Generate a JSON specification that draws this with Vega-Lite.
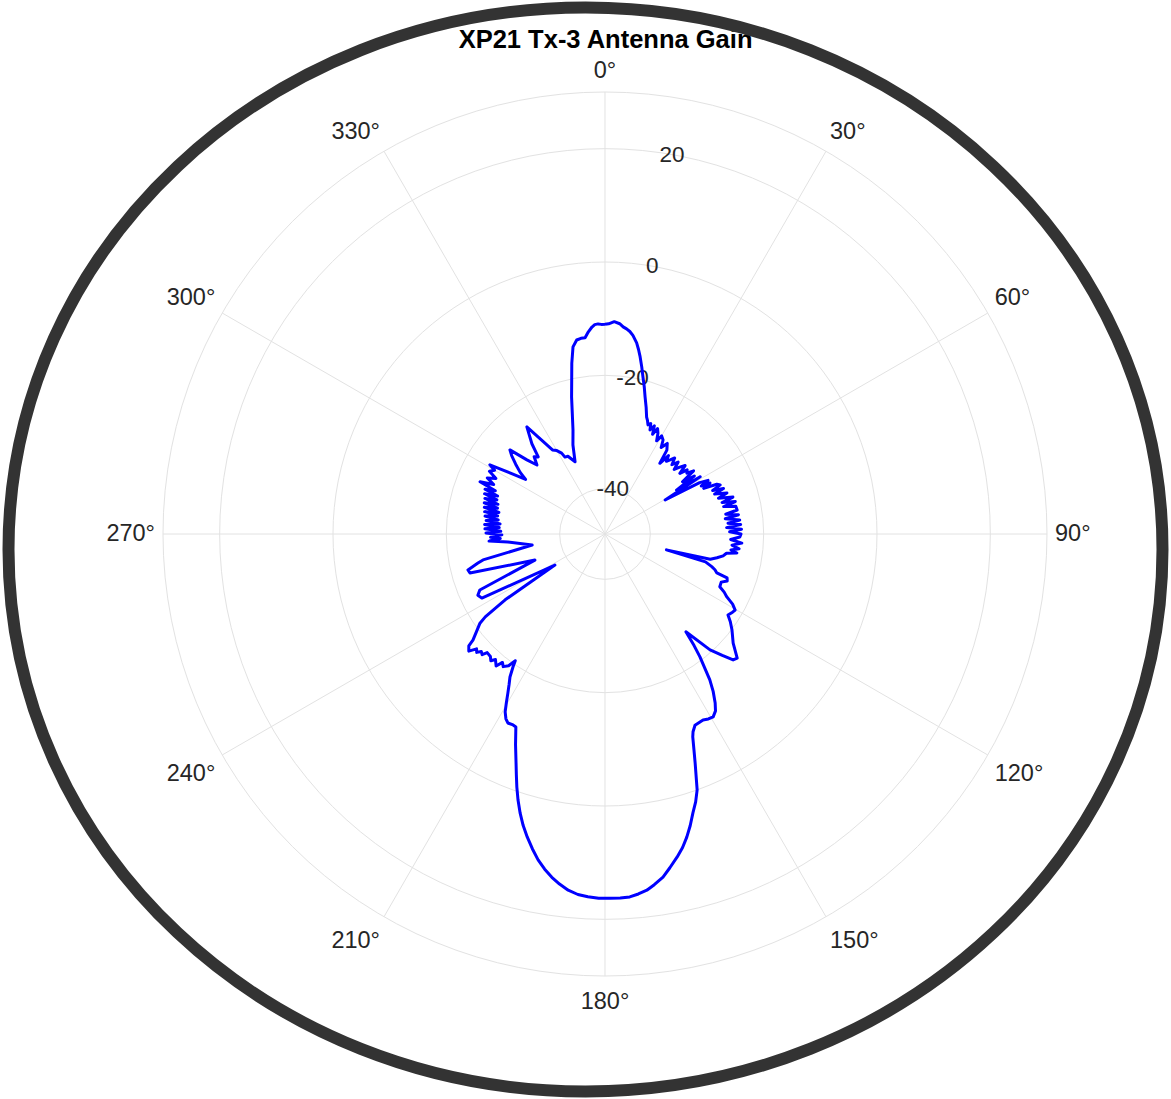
{
  "$schema": "https://vega.github.io/schema/vega-lite/v6.json",
  "width": 1171,
  "height": 1099,
  "padding": 0,
  "autosize": {"type": "none"},
  "background": "white",
  "config": {"view": {"stroke": null}},
  "datasets": {
    "rings": [{"level": -40}, {"level": -20}, {"level": 0}, {"level": 20}, {"level": 30}],
    "spokes": [{"angle": 0, "r": 0}, {"angle": 0, "r": 78}, {"angle": 30, "r": 0}, {"angle": 30, "r": 78}, {"angle": 60, "r": 0}, {"angle": 60, "r": 78}, {"angle": 90, "r": 0}, {"angle": 90, "r": 78}, {"angle": 120, "r": 0}, {"angle": 120, "r": 78}, {"angle": 150, "r": 0}, {"angle": 150, "r": 78}, {"angle": 180, "r": 0}, {"angle": 180, "r": 78}, {"angle": 210, "r": 0}, {"angle": 210, "r": 78}, {"angle": 240, "r": 0}, {"angle": 240, "r": 78}, {"angle": 270, "r": 0}, {"angle": 270, "r": 78}, {"angle": 300, "r": 0}, {"angle": 300, "r": 78}, {"angle": 330, "r": 0}, {"angle": 330, "r": 78}],
    "thetaLabels": [{"angle": 0, "label": "0°"}, {"angle": 30, "label": "30°"}, {"angle": 60, "label": "60°"}, {"angle": 90, "label": "90°"}, {"angle": 120, "label": "120°"}, {"angle": 150, "label": "150°"}, {"angle": 180, "label": "180°"}, {"angle": 210, "label": "210°"}, {"angle": 240, "label": "240°"}, {"angle": 270, "label": "270°"}, {"angle": 300, "label": "300°"}, {"angle": 330, "label": "330°"}],
    "rLabels": [{"level": -40, "label": "-40"}, {"level": -20, "label": "-20"}, {"level": 0, "label": "0"}, {"level": 20, "label": "20"}],
    "titleText": [{"title": "XP21 Tx-3 Antenna Gain"}],
    "pattern": [
      {"angle":0,"gain":-11.0},{"angle":1,"gain":-10.9},{"angle":2.5,"gain":-10.5},{"angle":4,"gain":-10.8},{"angle":5,"gain":-11.3},{"angle":6,"gain":-11.6},{"angle":7,"gain":-12.0},{"angle":8,"gain":-12.6},{"angle":9.4,"gain":-13.8},{"angle":10.3,"gain":-14.9},{"angle":11.2,"gain":-16.1},{"angle":12.4,"gain":-17.8},{"angle":13.6,"gain":-19.5},{"angle":15,"gain":-21.2},{"angle":16.3,"gain":-22.8},{"angle":18,"gain":-24.5},{"angle":19.6,"gain":-26.1},{"angle":20.5,"gain":-26.6},{"angle":21.5,"gain":-27.3},{"angle":22.5,"gain":-26.9},{"angle":23.4,"gain":-28.0},{"angle":24.5,"gain":-27.0},{"angle":25.5,"gain":-28.5},{"angle":26.5,"gain":-27.2},{"angle":27.7,"gain":-27.9},{"angle":29,"gain":-29.2},{"angle":30,"gain":-28.0},{"angle":31.7,"gain":-28.5},{"angle":33,"gain":-29.8},{"angle":34.5,"gain":-28.6},{"angle":36.4,"gain":-29.6},{"angle":37.8,"gain":-32.2},{"angle":39,"gain":-30.2},{"angle":40.2,"gain":-31.2},{"angle":41.3,"gain":-30.6},{"angle":42.5,"gain":-29.8},{"angle":44,"gain":-31.0},{"angle":45.5,"gain":-29.9},{"angle":47,"gain":-31.3},{"angle":48.2,"gain":-30.3},{"angle":49.5,"gain":-29.4},{"angle":51,"gain":-31.0},{"angle":52,"gain":-29.6},{"angle":53.4,"gain":-30.0},{"angle":54.5,"gain":-28.8},{"angle":56,"gain":-31.5},{"angle":57,"gain":-29.2},{"angle":58.5,"gain":-33.2},{"angle":59,"gain":-28.4},{"angle":60.5,"gain":-35.8},{"angle":61.5,"gain":-29.0},{"angle":62.5,"gain":-27.5},{"angle":63.5,"gain":-29.0},{"angle":64.1,"gain":-27.4},{"angle":65.2,"gain":-28.8},{"angle":66,"gain":-26.4},{"angle":66.9,"gain":-25.9},{"angle":68,"gain":-27.5},{"angle":69,"gain":-25.6},{"angle":70,"gain":-27.4},{"angle":71.4,"gain":-25.3},{"angle":72.5,"gain":-27.0},{"angle":73.9,"gain":-24.5},{"angle":75,"gain":-26.6},{"angle":76,"gain":-24.3},{"angle":77,"gain":-26.5},{"angle":78,"gain":-24.4},{"angle":79.7,"gain":-24.3},{"angle":80.7,"gain":-26.4},{"angle":81.8,"gain":-24.2},{"angle":82.8,"gain":-26.6},{"angle":84.1,"gain":-24.1},{"angle":85,"gain":-26.2},{"angle":86,"gain":-24.0},{"angle":87,"gain":-26.5},{"angle":88,"gain":-23.9},{"angle":89,"gain":-26.0},{"angle":90,"gain":-24.0},{"angle":91.3,"gain":-24.2},{"angle":92.5,"gain":-25.8},{"angle":93.8,"gain":-23.8},{"angle":95,"gain":-25.5},{"angle":96.3,"gain":-24.2},{"angle":97.2,"gain":-25.6},{"angle":98.2,"gain":-24.5},{"angle":99,"gain":-26.3},{"angle":100.5,"gain":-26.8},{"angle":102,"gain":-27.8},{"angle":103.5,"gain":-28.9},{"angle":104.5,"gain":-36.8},{"angle":105.5,"gain":-29.6},{"angle":107,"gain":-28.3},{"angle":108,"gain":-27.6},{"angle":109.2,"gain":-27.1},{"angle":109.8,"gain":-25.1},{"angle":111,"gain":-24.9},{"angle":112.5,"gain":-25.8},{"angle":114.7,"gain":-25.7},{"angle":116,"gain":-24.6},{"angle":117.3,"gain":-23.8},{"angle":118.8,"gain":-22.3},{"angle":120.3,"gain":-21.4},{"angle":121.5,"gain":-21.6},{"angle":123.4,"gain":-22.0},{"angle":125,"gain":-21.0},{"angle":127.1,"gain":-19.9},{"angle":130.4,"gain":-18.3},{"angle":133.2,"gain":-16.0},{"angle":134.5,"gain":-16.3},{"angle":136,"gain":-18.2},{"angle":137.8,"gain":-20.4},{"angle":140.4,"gain":-25.6},{"angle":141.4,"gain":-22.8},{"angle":142.3,"gain":-20.6},{"angle":144.3,"gain":-16.3},{"angle":145.5,"gain":-14.3},{"angle":146.9,"gain":-12.4},{"angle":148,"gain":-11.2},{"angle":149.4,"gain":-10.5},{"angle":150.8,"gain":-10.6},{"angle":152.2,"gain":-10.9},{"angle":154.8,"gain":-10.7},{"angle":156,"gain":-9.8},{"angle":156.6,"gain":-9.0},{"angle":157.6,"gain":-6.8},{"angle":158.5,"gain":-4.6},{"angle":160.2,"gain":0.0},{"angle":161.3,"gain":1.9},{"angle":162.5,"gain":3.6},{"angle":163.7,"gain":5.6},{"angle":164.9,"gain":7.4},{"angle":166.1,"gain":9.0},{"angle":167.4,"gain":10.4},{"angle":169,"gain":12.0},{"angle":170.4,"gain":13.4},{"angle":172,"gain":14.5},{"angle":173.3,"gain":15.3},{"angle":174.7,"gain":15.8},{"angle":176.1,"gain":16.2},{"angle":177.6,"gain":16.3},{"angle":179.2,"gain":16.3},{"angle":181,"gain":16.3},{"angle":182.7,"gain":16.1},{"angle":184.3,"gain":15.8},{"angle":185.9,"gain":15.2},{"angle":187.4,"gain":14.3},{"angle":188.8,"gain":13.3},{"angle":190.2,"gain":12.1},{"angle":191.6,"gain":10.7},{"angle":193,"gain":9.0},{"angle":194.4,"gain":7.2},{"angle":195.7,"gain":5.4},{"angle":196.9,"gain":3.5},{"angle":198.1,"gain":1.4},{"angle":199.2,"gain":-0.7},{"angle":200.2,"gain":-2.7},{"angle":201.2,"gain":-4.6},{"angle":203,"gain":-7.6},{"angle":204.8,"gain":-10.5},{"angle":205.7,"gain":-10.6},{"angle":207.2,"gain":-10.5},{"angle":208.2,"gain":-11.0},{"angle":209.3,"gain":-12.0},{"angle":210.3,"gain":-13.5},{"angle":211.4,"gain":-15.1},{"angle":212.5,"gain":-16.5},{"angle":213.6,"gain":-17.7},{"angle":214.7,"gain":-19.5},{"angle":215.3,"gain":-20.6},{"angle":216.2,"gain":-19.2},{"angle":217.5,"gain":-18.5},{"angle":218.6,"gain":-19.0},{"angle":219.5,"gain":-17.8},{"angle":221.1,"gain":-18.6},{"angle":222,"gain":-17.9},{"angle":223.1,"gain":-18.4},{"angle":224.8,"gain":-18.5},{"angle":225.5,"gain":-17.6},{"angle":226.5,"gain":-17.9},{"angle":227.3,"gain":-17.2},{"angle":228.2,"gain":-17.6},{"angle":229.3,"gain":-16.3},{"angle":230.6,"gain":-16.9},{"angle":231.2,"gain":-18.1},{"angle":233.1,"gain":-19.8},{"angle":234.5,"gain":-20.9},{"angle":235.3,"gain":-22.3},{"angle":236,"gain":-25.0},{"angle":236.6,"gain":-26.9},{"angle":238.2,"gain":-37.6},{"angle":242.5,"gain":-23.5},{"angle":244.3,"gain":-23.1},{"angle":245.9,"gain":-23.8},{"angle":249.6,"gain":-34.8},{"angle":253.9,"gain":-23.2},{"angle":255.3,"gain":-23.0},{"angle":257.1,"gain":-25.0},{"angle":258,"gain":-26.0},{"angle":261.4,"gain":-35.0},{"angle":265.3,"gain":-30.8},{"angle":266.5,"gain":-27.5},{"angle":267.5,"gain":-29.5},{"angle":268.4,"gain":-27.8},{"angle":269.5,"gain":-29.8},{"angle":270.5,"gain":-27.0},{"angle":271.5,"gain":-29.6},{"angle":272.5,"gain":-26.8},{"angle":273.5,"gain":-29.3},{"angle":274.5,"gain":-26.7},{"angle":275.5,"gain":-29.4},{"angle":276.5,"gain":-26.9},{"angle":277.5,"gain":-29.0},{"angle":278.5,"gain":-26.6},{"angle":279.5,"gain":-28.8},{"angle":280.5,"gain":-26.4},{"angle":281.5,"gain":-28.9},{"angle":282.5,"gain":-26.2},{"angle":283.5,"gain":-28.5},{"angle":284.5,"gain":-26.0},{"angle":285.5,"gain":-28.4},{"angle":286.5,"gain":-25.9},{"angle":287.5,"gain":-28.0},{"angle":288.5,"gain":-25.6},{"angle":289.5,"gain":-27.9},{"angle":290.5,"gain":-25.4},{"angle":291.5,"gain":-27.2},{"angle":292.7,"gain":-24.1},{"angle":294,"gain":-26.5},{"angle":295.5,"gain":-25.0},{"angle":297,"gain":-26.4},{"angle":298.5,"gain":-24.8},{"angle":300,"gain":-25.5},{"angle":301,"gain":-24.3},{"angle":303,"gain":-28.5},{"angle":304.5,"gain":-31.0},{"angle":306,"gain":-29.5},{"angle":308,"gain":-28.0},{"angle":310,"gain":-26.5},{"angle":311.5,"gain":-25.6},{"angle":313.5,"gain":-29.0},{"angle":315.4,"gain":-30.9},{"angle":317.5,"gain":-29.5},{"angle":319.1,"gain":-30.0},{"angle":321,"gain":-27.5},{"angle":323.9,"gain":-24.6},{"angle":326,"gain":-28.0},{"angle":328,"gain":-30.5},{"angle":330,"gain":-31.0},{"angle":331.8,"gain":-31.8},{"angle":332.5,"gain":-32.7},{"angle":334.5,"gain":-32.8},{"angle":337.5,"gain":-34.2},{"angle":340.2,"gain":-31.3},{"angle":342.9,"gain":-28.8},{"angle":344.8,"gain":-26.0},{"angle":346.3,"gain":-23.1},{"angle":347.8,"gain":-20.2},{"angle":349,"gain":-17.3},{"angle":350.3,"gain":-14.5},{"angle":351.7,"gain":-13.4},{"angle":353,"gain":-13.2},{"angle":354.2,"gain":-13.2},{"angle":355.3,"gain":-12.2},{"angle":356.4,"gain":-11.4},{"angle":357.2,"gain":-11.0},{"angle":358.1,"gain":-10.9},{"angle":359,"gain":-11.0},{"angle":360,"gain":-11.0}
    ]
  },
  "layer": [
    {
      "data": {"name": "rings"},
      "transform": [{"calculate": "datum.level + 48", "as": "rr"}],
      "mark": {"type": "point", "shape": "circle", "filled": false, "stroke": "#e2e2e2", "strokeWidth": 1, "opacity": 1},
      "encoding": {
        "x": {"datum": 0, "type": "quantitative", "scale": {"domain": [-106.76, 99.88], "nice": false, "zero": false}, "axis": null},
        "y": {"datum": 0, "type": "quantitative", "scale": {"domain": [-99.71, 94.24], "nice": false, "zero": false}, "axis": null},
        "size": {"field": "rr", "type": "quantitative", "scale": {"type": "pow", "exponent": 2, "domain": [0, 78], "range": [0, 781456], "zero": true, "nice": false}, "legend": null}
      }
    },
    {
      "data": {"name": "spokes"},
      "transform": [
        {"calculate": "datum.r * sin(datum.angle * PI / 180)", "as": "sx"},
        {"calculate": "datum.r * cos(datum.angle * PI / 180)", "as": "sy"}
      ],
      "mark": {"type": "line", "color": "#e2e2e2", "strokeWidth": 1},
      "encoding": {
        "x": {"field": "sx", "type": "quantitative", "scale": {"domain": [-106.76, 99.88], "nice": false, "zero": false}, "axis": null},
        "y": {"field": "sy", "type": "quantitative", "scale": {"domain": [-99.71, 94.24], "nice": false, "zero": false}, "axis": null},
        "detail": {"field": "angle", "type": "nominal"},
        "order": {"field": "r", "type": "quantitative"}
      }
    },
    {
      "data": {"name": "thetaLabels"},
      "transform": [
        {"calculate": "datum.angle * PI / 180", "as": "a"},
        {"calculate": "abs(sin(datum.a)) < 0.01 ? 0 : (sin(datum.a) > 0 ? 1 : -1)", "as": "sgx"},
        {"calculate": "abs(cos(datum.a)) < 0.01 ? 0 : (cos(datum.a) > 0 ? 8.4 : -13)", "as": "offy"},
        {"calculate": "(13.07 * (length(datum.label) - 1) + 9.4) / 2", "as": "hw"},
        {"calculate": "(450 * sin(datum.a) + datum.sgx * datum.hw) / 5.667", "as": "lx"},
        {"calculate": "(455 * cos(datum.a) + datum.offy) / 5.667", "as": "ly"}
      ],
      "mark": {"type": "text", "font": "Liberation Sans", "fontSize": 23.5, "color": "#262626", "align": "center", "baseline": "middle"},
      "encoding": {
        "x": {"field": "lx", "type": "quantitative", "scale": {"domain": [-106.76, 99.88], "nice": false, "zero": false}, "axis": null},
        "y": {"field": "ly", "type": "quantitative", "scale": {"domain": [-99.71, 94.24], "nice": false, "zero": false}, "axis": null},
        "text": {"field": "label", "type": "nominal"}
      }
    },
    {
      "data": {"name": "rLabels"},
      "transform": [
        {"calculate": "(datum.level + 48) * sin(10 * PI / 180)", "as": "lx"},
        {"calculate": "(datum.level + 48) * cos(10 * PI / 180)", "as": "ly"}
      ],
      "mark": {"type": "text", "font": "Liberation Sans", "fontSize": 22.5, "color": "#262626", "align": "center", "baseline": "middle"},
      "encoding": {
        "x": {"field": "lx", "type": "quantitative", "scale": {"domain": [-106.76, 99.88], "nice": false, "zero": false}, "axis": null},
        "y": {"field": "ly", "type": "quantitative", "scale": {"domain": [-99.71, 94.24], "nice": false, "zero": false}, "axis": null},
        "text": {"field": "label", "type": "nominal"}
      }
    },
    {
      "data": {"name": "pattern"},
      "transform": [
        {"calculate": "(datum.gain + 48) * sin(datum.angle * PI / 180)", "as": "X"},
        {"calculate": "(datum.gain + 48) * cos(datum.angle * PI / 180)", "as": "Y"}
      ],
      "mark": {"type": "line", "color": "#0000ff", "strokeWidth": 3, "strokeJoin": "round"},
      "encoding": {
        "x": {"field": "X", "type": "quantitative", "scale": {"domain": [-106.76, 99.88], "nice": false, "zero": false}, "axis": null},
        "y": {"field": "Y", "type": "quantitative", "scale": {"domain": [-99.71, 94.24], "nice": false, "zero": false}, "axis": null},
        "order": {"field": "angle", "type": "quantitative"}
      }
    },
    {
      "data": {"name": "titleText"},
      "mark": {"type": "text", "font": "Liberation Sans", "fontSize": 25.5, "fontWeight": "bold", "color": "#000000", "align": "center", "baseline": "alphabetic"},
      "encoding": {
        "x": {"datum": 0.1, "type": "quantitative", "scale": {"domain": [-106.76, 99.88], "nice": false, "zero": false}, "axis": null},
        "y": {"datum": 85.76, "type": "quantitative", "scale": {"domain": [-99.71, 94.24], "nice": false, "zero": false}, "axis": null},
        "text": {"field": "title", "type": "nominal"}
      }
    },
    {
      "data": {"values": [{"frame": "border"}]},
      "mark": {"type": "point", "shape": "M -1 0 C -1 -0.5188 -0.5523 -0.9393 0 -0.9393 C 0.5523 -0.9393 1 -0.5188 1 0 C 1 0.5188 0.5523 0.9393 0 0.9393 C -0.5523 0.9393 -1 0.5188 -1 0 Z", "size": 1331716, "filled": false, "stroke": "#333333", "strokeWidth": 12, "opacity": 1, "x": {"expr": "width/2"}, "y": {"expr": "height/2"}},
      "encoding": {}
    }
  ]
}
